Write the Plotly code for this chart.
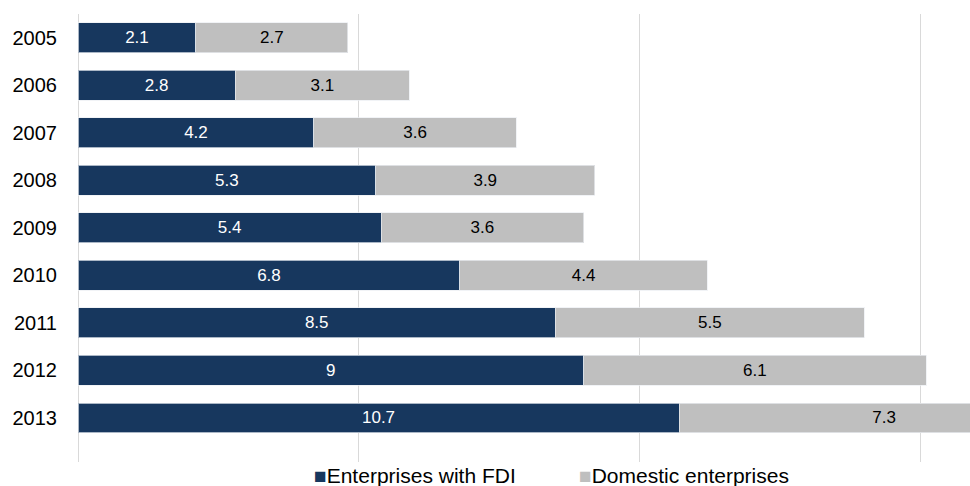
import plotly.graph_objects as go

# Enterprise output by ownership type, 2005-2013
years = ["2005", "2006", "2007", "2008", "2009", "2010", "2011", "2012", "2013"]
fdi = [2.1, 2.8, 4.2, 5.3, 5.4, 6.8, 8.5, 9, 10.7]
domestic = [2.7, 3.1, 3.6, 3.9, 3.6, 4.4, 5.5, 6.1, 7.3]
series_names = ["Enterprises with FDI", "Domestic enterprises"]

NAVY = "#17375e"
GREY = "#bfbfbf"
FONT = "Liberation Sans, Arial, sans-serif"

fig = go.Figure()
for vals, name, color, txt in [(fdi, series_names[0], NAVY, "white"),
                               (domestic, series_names[1], GREY, "black")]:
    fig.add_trace(go.Bar(
        y=years, x=vals, orientation="h", name=name, showlegend=False,
        marker=dict(color=color, line=dict(width=1, color="rgba(235,238,242,0.7)")),
        text=[str(v) for v in vals], textposition="inside",
        insidetextanchor="middle", textangle=0, constraintext="none",
        textfont=dict(color=txt, size=17, family=FONT),
    ))

# Legend drawn as a row of colored squares with series names below the plot
legend_x = [0.2623, 0.5594]
for name, color, lx in zip(series_names, [NAVY, GREY], legend_x):
    fig.add_annotation(
        xref="paper", yref="paper", x=lx, y=-0.031,
        xanchor="left", yanchor="middle", showarrow=False,
        text=f"<span style='color:{color}'>■</span>{name}",
        font=dict(size=21, family=FONT, color="black"),
    )

fig.update_layout(
    barmode="stack",
    bargap=0.37,
    width=970, height=486,
    margin=dict(l=78, r=0, t=14, b=24, autoexpand=False),
    paper_bgcolor="white", plot_bgcolor="white",
    font=dict(family=FONT, color="black"),
    showlegend=False,
    xaxis=dict(
        range=[0, 15.88], dtick=5, tick0=0, showticklabels=False,
        showgrid=True, gridcolor="#d9d9d9", gridwidth=1,
        zeroline=True, zerolinecolor="#d9d9d9", zerolinewidth=1,
        showline=False, fixedrange=True,
    ),
    yaxis=dict(
        type="category", categoryorder="array", categoryarray=years,
        range=[8.926, -0.5], showgrid=False, zeroline=False, showline=False,
        ticks="", ticklabelstandoff=20,
        tickfont=dict(size=20, family=FONT, color="black"),
    ),
)

fig.write_html("out.html")
